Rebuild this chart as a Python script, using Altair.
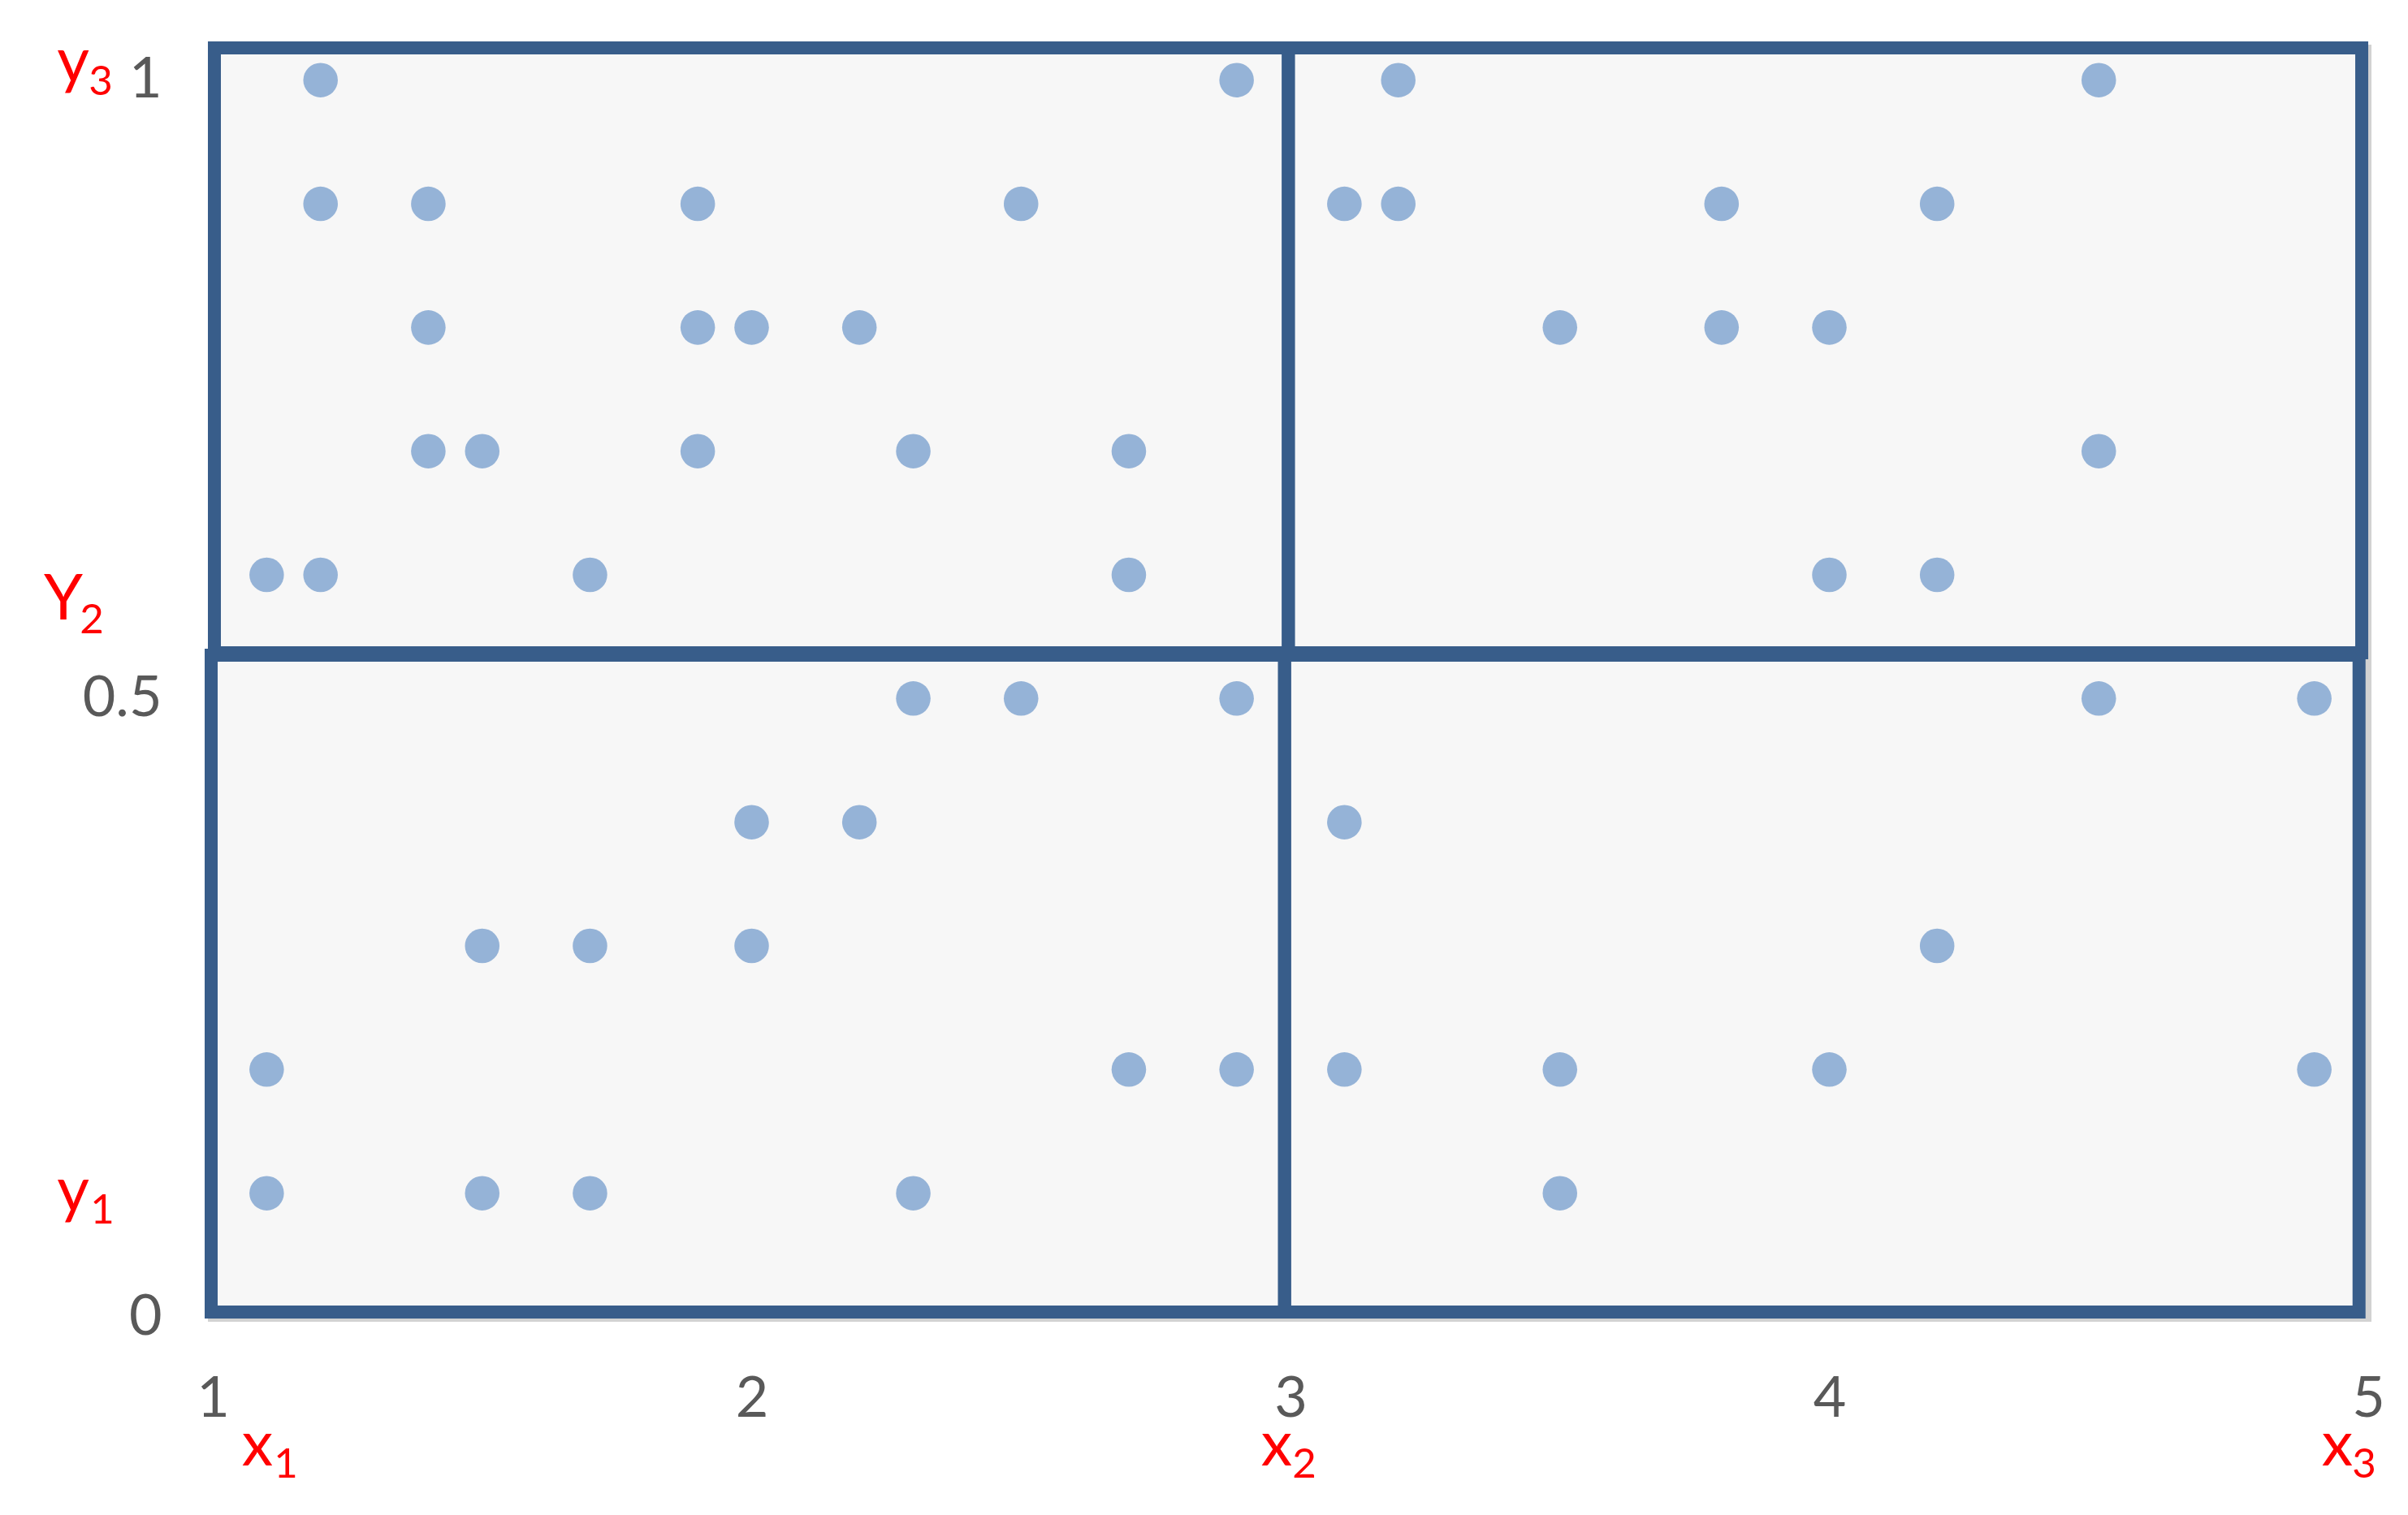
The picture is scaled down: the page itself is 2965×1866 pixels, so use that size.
import altair as alt
import pandas as pd

# ---- data -------------------------------------------------------------
# points, grouped by y value (x positions)
x_at_10 = [1.2, 2.9, 3.2, 4.5]
x_at_09 = [1.2, 1.4, 1.9, 2.5, 3.1, 3.2, 3.8, 4.2]
x_at_08 = [1.4, 1.9, 2.0, 2.2, 3.5, 3.8, 4.0]
x_at_07 = [1.4, 1.5, 1.9, 2.3, 2.7, 4.5]
x_at_06 = [1.1, 1.2, 1.7, 2.7, 4.0, 4.2]
x_at_05 = [2.3, 2.5, 2.9, 4.5, 4.9]
x_at_04 = [2.0, 2.2, 3.1]
x_at_03 = [1.5, 1.7, 2.0, 4.2]
x_at_02 = [1.1, 2.7, 2.9, 3.1, 3.5, 4.0, 4.9]
x_at_01 = [1.1, 1.5, 1.7, 2.3, 3.5]
row_y = [1.0, 0.9, 0.8, 0.7, 0.6, 0.5, 0.4, 0.3, 0.2, 0.1]

# grid cells (lower-left, lower-right, upper-left, upper-right)
box_x1 = [0.997, 2.989, 1.003, 2.996]
box_x2 = [2.989, 4.983, 2.996, 4.988]
box_y1 = [0.004, 0.004, 0.537, 0.537]
box_y2 = [0.535, 0.535, 1.026, 1.026]

# axis ticks
x_ticks = [1, 2, 3, 4, 5]
y_ticks = [0, 0.5, 1]

# red boundary labels
red_letters = ["x", "x", "x", "y", "Y", "y"]
red_subs = ["1", "2", "3", "1", "2", "3"]
red_anchor_x = [1, 3, 5, 1, 1, 1]
red_anchor_y = [0, 0, 0, 0, 0.5, 1]

# ---- layout / style (pixel offsets of the red labels) --------------------
main_dx = [55, -17, -38, -172, -184, -172]
main_dy = [183, 183, 183, -130, -97.5, 2]
sub_dx = [90, 17, -5, -136, -149, -138]
sub_dy = [198, 198, 198, -115, -80.5, 18]

FONT = "Lato"
BOX_STROKE = "#385D8A"
BOX_FILL = "#F7F7F7"
DOT = "#95B3D7"

rows = [x_at_10, x_at_09, x_at_08, x_at_07, x_at_06,
        x_at_05, x_at_04, x_at_03, x_at_02, x_at_01]
pts = pd.DataFrame(
    [{"x": xv, "y": yv} for xs, yv in zip(rows, row_y) for xv in xs]
)
boxes = pd.DataFrame({"x1": box_x1, "x2": box_x2, "y1": box_y1, "y2": box_y2})
outer = pd.DataFrame({"x1": [min(box_x1)], "x2": [max(box_x2)],
                      "y1": [min(box_y1)], "y2": [max(box_y2)]})

xscale = alt.Scale(domain=[1, 5], nice=False, zero=False)
yscale = alt.Scale(domain=[0, 1.03], nice=False, zero=False)

x_axis = alt.Axis(values=x_ticks, title=None, grid=False, ticks=False, tickSize=0,
                  domain=False, labelFont=FONT, labelFontSize=70, format="~g",
                  labelColor="#595959", labelPadding=67, labelFlush=False,
                  labelOverlap=False, labelAlign="center")
y_axis = alt.Axis(values=y_ticks, title=None, grid=False, ticks=False, tickSize=0,
                  domain=False, labelFont=FONT, labelFontSize=70, format="~g",
                  labelColor="#595959", labelPadding=63, labelFlush=False,
                  labelOverlap=False)

shadow = alt.Chart(outer).mark_rect(
    filled=False, stroke="#D2D2D2", strokeWidth=16,
    xOffset=4, x2Offset=4, yOffset=4, y2Offset=4
).encode(
    x=alt.X("x1:Q", scale=xscale, axis=x_axis),
    x2="x2:Q",
    y=alt.Y("y1:Q", scale=yscale, axis=y_axis),
    y2="y2:Q",
)

fills = alt.Chart(boxes).mark_rect(fill=BOX_FILL, strokeWidth=0).encode(
    x=alt.X("x1:Q", scale=xscale), x2="x2:Q",
    y=alt.Y("y1:Q", scale=yscale), y2="y2:Q",
)

strokes = alt.Chart(boxes).mark_rect(
    filled=False, stroke=BOX_STROKE, strokeWidth=16
).encode(
    x=alt.X("x1:Q", scale=xscale), x2="x2:Q",
    y=alt.Y("y1:Q", scale=yscale), y2="y2:Q",
)

dots = alt.Chart(pts).mark_circle(size=1810, color=DOT, opacity=1).encode(
    x=alt.X("x:Q", scale=xscale),
    y=alt.Y("y:Q", scale=yscale),
)

layers = [shadow, fills, strokes, dots]
for i in range(len(red_letters)):
    d = pd.DataFrame({"ax": [red_anchor_x[i]], "ay": [red_anchor_y[i]],
                      "m": [red_letters[i]], "s": [red_subs[i]]})
    base = alt.Chart(d)
    layers.append(
        base.mark_text(font=FONT, fontSize=77, color="#FF0000", align="center",
                       baseline="alphabetic", dx=main_dx[i], dy=main_dy[i],
                       clip=False)
        .encode(x=alt.X("ax:Q", scale=xscale), y=alt.Y("ay:Q", scale=yscale),
                text="m:N")
    )
    layers.append(
        base.mark_text(font=FONT, fontSize=51, color="#FF0000", align="center",
                       baseline="alphabetic", dx=sub_dx[i], dy=sub_dy[i],
                       clip=False)
        .encode(x=alt.X("ax:Q", scale=xscale), y=alt.Y("ay:Q", scale=yscale),
                text="s:N")
    )

chart = alt.layer(*layers).properties(
    width=2654,
    height=1569,
    autosize=alt.AutoSizeParams(type="none"),
    padding={"left": 254, "top": 45, "right": 40, "bottom": 230},
    background="white",
).configure_view(stroke=None)

chart.save("out.html", embed_options={"renderer": "svg", "actions": False})
